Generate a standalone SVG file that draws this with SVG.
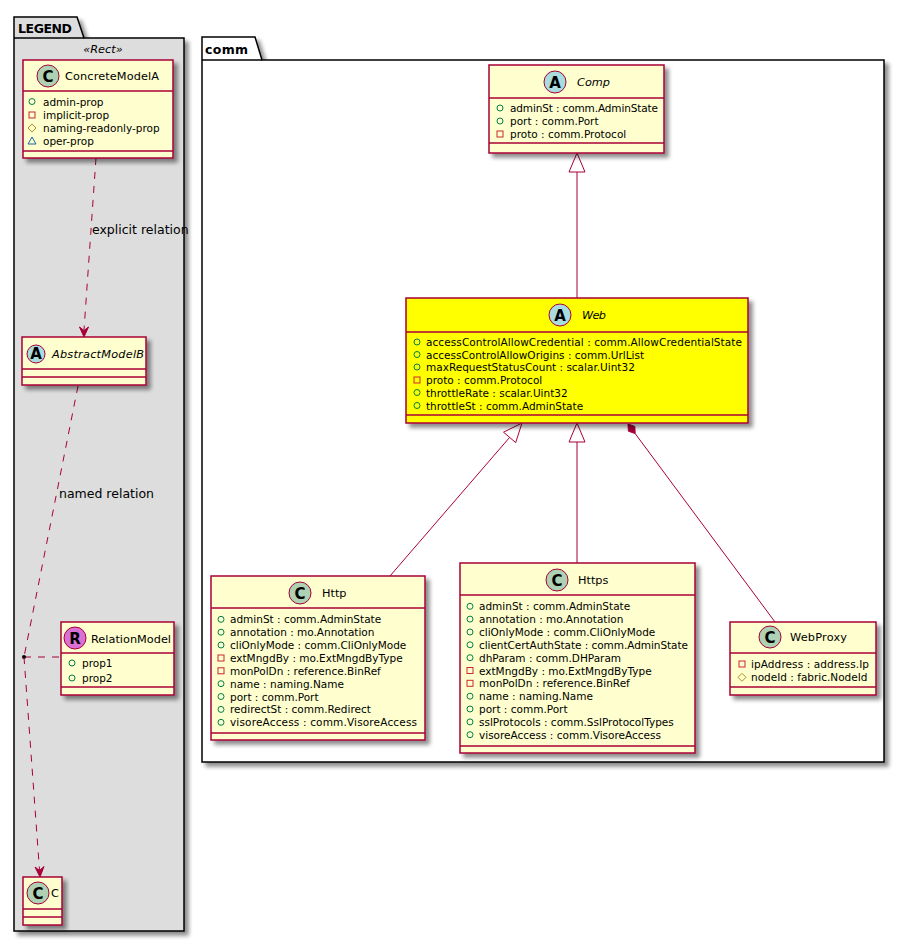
<svg xmlns="http://www.w3.org/2000/svg" xmlns:xlink="http://www.w3.org/1999/xlink" width="905" height="944" viewBox="0 0 905 944">
<style>
.pkg{stroke:#000;stroke-width:1.5}
.cls{fill:#FEFECE;stroke:#A80036;stroke-width:1.5}
.sep{stroke:#A80036;stroke-width:1.5}
.spot{stroke:#A80036;stroke-width:1}
.nm{font-family:"DejaVu Sans",sans-serif;font-size:11.3px;fill:#000}
.it{font-style:italic}
.at{font-family:"DejaVu Sans",sans-serif;font-size:10.5px;fill:#000}
.lb{font-family:"DejaVu Sans",sans-serif;font-size:12.5px;fill:#000}
.pt{font-family:"DejaVu Sans",sans-serif;font-size:12.5px;font-weight:bold;fill:#000}
.sl{font-family:"DejaVu Sans",sans-serif;font-size:15px;font-weight:bold;fill:#000;text-anchor:middle}
.ln{fill:none;stroke:#A80036;stroke-width:1}
.dash{stroke-dasharray:7,7}
</style>
<defs>
<filter id="sh" x="-10%" y="-10%" width="130%" height="130%">
<feGaussianBlur in="SourceAlpha" stdDeviation="2"/>
<feOffset dx="4" dy="4" result="b"/>
<feComponentTransfer><feFuncA type="linear" slope="0.45"/></feComponentTransfer>
<feMerge><feMergeNode/><feMergeNode in="SourceGraphic"/></feMerge>
</filter>
<g id="pub"><circle r="3" fill="none" stroke="#038048" stroke-width="1"/></g>
<g id="priv"><rect x="-3" y="-3" width="6" height="6" fill="none" stroke="#C82930" stroke-width="1"/></g>
<g id="prot"><polygon points="0,-4 4,0 0,4 -4,0" fill="none" stroke="#B38D22" stroke-width="1"/></g>
<g id="pack"><polygon points="0,-4 4,3 -4,3" fill="none" stroke="#1963A0" stroke-width="1"/></g>
</defs>
<rect width="905" height="944" fill="#FFFFFF"/>

<!-- LEGEND package -->
<g id="pkg-legend">
<path class="pkg" filter="url(#sh)" fill="#DDDDDD" d="M14,38 V17 H77 L84,38 H184 V931 H14 Z"/>
<line class="pkg" x1="14" y1="38" x2="84" y2="38"/>
<text class="pt" x="18" y="33" textLength="54">LEGEND</text>
<text class="nm it" x="103" y="53" text-anchor="middle" font-size="12">«Rect»</text>
</g>

<!-- comm package -->
<g id="pkg-comm">
<path class="pkg" filter="url(#sh)" fill="#FFFFFF" d="M202,60 V37 H255 L262,60 H884 V762 H202 Z"/>
<line class="pkg" x1="202" y1="60" x2="262" y2="60"/>
<text class="pt" x="205" y="54" textLength="43">comm</text>
</g>

<!-- connectors -->
<g id="connectors">
<path class="ln dash" d="M96,158 L84,330"/>
<polygon points="84,337 79.5,327 84,330.5 88.5,327" fill="#A80036" stroke="#A80036" stroke-width="1"/>
<text class="lb" x="92" y="234">explicit relation</text>

<path class="ln dash" d="M78,386 L24,657"/>
<text class="lb" x="59" y="498">named relation</text>
<path class="ln dash" d="M24,657 L61,657"/>
<circle cx="24" cy="657" r="2" fill="#000"/>
<path class="ln dash" d="M24,657 L39.5,870"/>
<polygon points="40,877 35,867 39.5,870.5 44,866.5" fill="#A80036" stroke="#A80036" stroke-width="1"/>

<line class="ln" x1="577" y1="172" x2="577" y2="298"/>
<polygon points="577,153 569,172 585,172" fill="none" stroke="#A80036" stroke-width="1"/>

<line class="ln" x1="509.6" y1="437.4" x2="390" y2="576"/>
<polygon points="522,423 515.7,442.6 503.5,432.2" fill="none" stroke="#A80036" stroke-width="1"/>

<line class="ln" x1="577" y1="442" x2="577" y2="563"/>
<polygon points="577,423 569,442 585,442" fill="none" stroke="#A80036" stroke-width="1"/>

<line class="ln" x1="635.2" y1="433.6" x2="775" y2="622"/>
<polygon points="628,424 634.8,426.4 635.2,433.6 628.4,431.2" fill="#A80036" stroke="#A80036" stroke-width="1"/>
</g>

<!-- ConcreteModelA -->
<g id="ConcreteModelA">
<rect class="cls" filter="url(#sh)" x="23" y="60" width="150" height="98"/>
<line class="sep" x1="23" y1="91" x2="173" y2="91"/>
<line class="sep" x1="23" y1="151" x2="173" y2="151"/>
<circle class="spot" cx="48" cy="76" r="11" fill="#ADD1B2"/>
<text class="sl" x="48" y="81.5">C</text>
<text class="nm" x="65" y="80" textLength="94">ConcreteModelA</text>
<use xlink:href="#pub" x="32" y="101.5"/>
<text class="at" x="43" y="105.5">admin-prop</text>
<use xlink:href="#priv" x="32" y="115"/>
<text class="at" x="43" y="119">implicit-prop</text>
<use xlink:href="#prot" x="32" y="128"/>
<text class="at" x="43" y="132">naming-readonly-prop</text>
<use xlink:href="#pack" x="32" y="141"/>
<text class="at" x="43" y="145">oper-prop</text>
</g>

<!-- AbstractModelB -->
<g id="AbstractModelB">
<rect class="cls" filter="url(#sh)" x="22" y="337" width="124" height="48"/>
<line class="sep" x1="22" y1="369" x2="146" y2="369"/>
<line class="sep" x1="22" y1="377" x2="146" y2="377"/>
<circle class="spot" cx="36" cy="354" r="9" fill="#A9DCDF"/>
<text class="sl" x="36" y="359" font-size="13">A</text>
<text class="nm it" x="52" y="358" textLength="92">AbstractModelB</text>
</g>

<!-- RelationModel -->
<g id="RelationModel">
<rect class="cls" filter="url(#sh)" x="61" y="622" width="113" height="73"/>
<line class="sep" x1="61" y1="653" x2="174" y2="653"/>
<line class="sep" x1="61" y1="687" x2="174" y2="687"/>
<circle class="spot" cx="75" cy="638" r="11" fill="#DA70D6"/>
<text class="sl" x="75" y="643.5">R</text>
<text class="nm" x="91" y="643" textLength="80">RelationModel</text>
<use xlink:href="#pub" x="72" y="663"/>
<text class="at" x="82" y="667">prop1</text>
<use xlink:href="#pub" x="72" y="678"/>
<text class="at" x="82" y="682">prop2</text>
</g>

<!-- C -->
<g id="C">
<rect class="cls" filter="url(#sh)" x="23" y="877" width="39" height="48"/>
<line class="sep" x1="23" y1="909" x2="62" y2="909"/>
<line class="sep" x1="23" y1="917" x2="62" y2="917"/>
<circle class="spot" cx="38" cy="893" r="11" fill="#ADD1B2"/>
<text class="sl" x="38" y="898.5">C</text>
<text class="nm" x="51" y="897">C</text>
</g>

<!-- Comp -->
<g id="Comp">
<rect class="cls" filter="url(#sh)" x="489" y="65" width="175" height="88"/>
<line class="sep" x1="489" y1="98" x2="664" y2="98"/>
<line class="sep" x1="489" y1="143" x2="664" y2="143"/>
<circle class="spot" cx="555" cy="82" r="11" fill="#A9DCDF"/>
<text class="sl" x="555" y="87.5">A</text>
<text class="nm it" x="577" y="86" textLength="33">Comp</text>
<use xlink:href="#pub" x="500" y="108"/>
<text class="at" x="510" y="112" textLength="148">adminSt : comm.AdminState</text>
<use xlink:href="#pub" x="500" y="121"/>
<text class="at" x="510" y="125">port : comm.Port</text>
<use xlink:href="#priv" x="500" y="134"/>
<text class="at" x="510" y="138">proto : comm.Protocol</text>
</g>

<!-- Web -->
<g id="Web">
<rect class="cls" filter="url(#sh)" x="406" y="298" width="342" height="125" fill="#FFFF00" style="fill:#FFFF00"/>
<line class="sep" x1="406" y1="332" x2="748" y2="332"/>
<line class="sep" x1="406" y1="415" x2="748" y2="415"/>
<circle class="spot" cx="560" cy="315" r="11" fill="#A9DCDF"/>
<text class="sl" x="560" y="320.5">A</text>
<text class="nm it" x="582" y="319" textLength="24">Web</text>
<use xlink:href="#pub" x="417" y="342"/>
<text class="at" x="426" y="346" textLength="316">accessControlAllowCredential : comm.AllowCredentialState</text>
<use xlink:href="#pub" x="417" y="354.5"/>
<text class="at" x="426" y="358.5">accessControlAllowOrigins : comm.UrlList</text>
<use xlink:href="#pub" x="417" y="367"/>
<text class="at" x="426" y="371">maxRequestStatusCount : scalar.Uint32</text>
<use xlink:href="#priv" x="417" y="380"/>
<text class="at" x="426" y="384">proto : comm.Protocol</text>
<use xlink:href="#pub" x="417" y="392.5"/>
<text class="at" x="426" y="396.5">throttleRate : scalar.Uint32</text>
<use xlink:href="#pub" x="417" y="405.5"/>
<text class="at" x="426" y="409.5">throttleSt : comm.AdminState</text>
</g>

<!-- Http -->
<g id="Http">
<rect class="cls" filter="url(#sh)" x="211" y="576" width="214" height="164"/>
<line class="sep" x1="211" y1="608" x2="425" y2="608"/>
<line class="sep" x1="211" y1="733" x2="425" y2="733"/>
<circle class="spot" cx="300" cy="593" r="11" fill="#ADD1B2"/>
<text class="sl" x="300" y="598.5">C</text>
<text class="nm" x="322" y="597">Http</text>
<use xlink:href="#pub" x="221" y="619.3"/>
<text class="at" x="230" y="623.3">adminSt : comm.AdminState</text>
<use xlink:href="#pub" x="221" y="632.2"/>
<text class="at" x="230" y="636.2">annotation : mo.Annotation</text>
<use xlink:href="#pub" x="221" y="645"/>
<text class="at" x="230" y="649">cliOnlyMode : comm.CliOnlyMode</text>
<use xlink:href="#priv" x="221" y="658"/>
<text class="at" x="230" y="662">extMngdBy : mo.ExtMngdByType</text>
<use xlink:href="#priv" x="221" y="670.8"/>
<text class="at" x="230" y="674.8">monPolDn : reference.BinRef</text>
<use xlink:href="#pub" x="221" y="683.7"/>
<text class="at" x="230" y="687.7">name : naming.Name</text>
<use xlink:href="#pub" x="221" y="696.5"/>
<text class="at" x="230" y="700.5">port : comm.Port</text>
<use xlink:href="#pub" x="221" y="709.4"/>
<text class="at" x="230" y="713.4">redirectSt : comm.Redirect</text>
<use xlink:href="#pub" x="221" y="722.3"/>
<text class="at" x="230" y="726.3" textLength="187">visoreAccess : comm.VisoreAccess</text>
</g>

<!-- Https -->
<g id="Https">
<rect class="cls" filter="url(#sh)" x="460" y="563" width="235" height="190"/>
<line class="sep" x1="460" y1="595" x2="695" y2="595"/>
<line class="sep" x1="460" y1="746" x2="695" y2="746"/>
<circle class="spot" cx="557" cy="580" r="11" fill="#ADD1B2"/>
<text class="sl" x="557" y="585.5">C</text>
<text class="nm" x="578" y="584">Https</text>
<use xlink:href="#pub" x="470" y="606.3"/>
<text class="at" x="479" y="610.3">adminSt : comm.AdminState</text>
<use xlink:href="#pub" x="470" y="619.1"/>
<text class="at" x="479" y="623.1">annotation : mo.Annotation</text>
<use xlink:href="#pub" x="470" y="632"/>
<text class="at" x="479" y="636">cliOnlyMode : comm.CliOnlyMode</text>
<use xlink:href="#pub" x="470" y="644.8"/>
<text class="at" x="479" y="648.8" textLength="209">clientCertAuthState : comm.AdminState</text>
<use xlink:href="#pub" x="470" y="657.7"/>
<text class="at" x="479" y="661.7">dhParam : comm.DHParam</text>
<use xlink:href="#priv" x="470" y="670.5"/>
<text class="at" x="479" y="674.5">extMngdBy : mo.ExtMngdByType</text>
<use xlink:href="#priv" x="470" y="683.3"/>
<text class="at" x="479" y="687.3">monPolDn : reference.BinRef</text>
<use xlink:href="#pub" x="470" y="696.2"/>
<text class="at" x="479" y="700.2">name : naming.Name</text>
<use xlink:href="#pub" x="470" y="709"/>
<text class="at" x="479" y="713">port : comm.Port</text>
<use xlink:href="#pub" x="470" y="721.9"/>
<text class="at" x="479" y="725.9">sslProtocols : comm.SslProtocolTypes</text>
<use xlink:href="#pub" x="470" y="734.7"/>
<text class="at" x="479" y="738.7">visoreAccess : comm.VisoreAccess</text>
</g>

<!-- WebProxy -->
<g id="WebProxy">
<rect class="cls" filter="url(#sh)" x="730" y="622" width="146" height="73"/>
<line class="sep" x1="730" y1="653" x2="876" y2="653"/>
<line class="sep" x1="730" y1="687" x2="876" y2="687"/>
<circle class="spot" cx="770" cy="637" r="11" fill="#ADD1B2"/>
<text class="sl" x="770" y="642.5">C</text>
<text class="nm" x="790" y="641" textLength="57">WebProxy</text>
<use xlink:href="#priv" x="742" y="664"/>
<text class="at" x="751" y="668" textLength="118">ipAddress : address.Ip</text>
<use xlink:href="#prot" x="742" y="677.3"/>
<text class="at" x="751" y="681.3">nodeId : fabric.NodeId</text>
</g>
</svg>
